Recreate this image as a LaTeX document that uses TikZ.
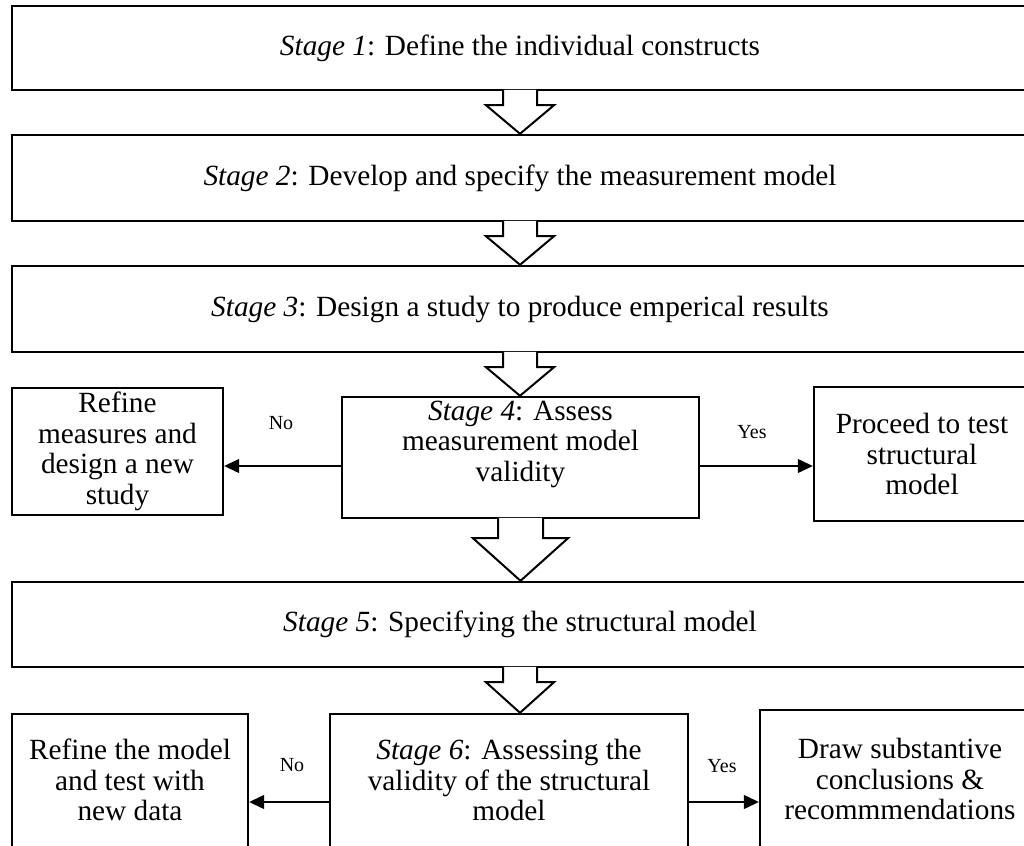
\documentclass[tikz,border=0pt]{standalone}
\usepackage{fontspec}
\setmainfont{Liberation Serif}
\usetikzlibrary{calc,arrows.meta}

\newcommand\boxfont{\fontsize{29.3}{30.5}\selectfont}
\newcommand\lblfont{\fontsize{20}{24}\selectfont}

\tikzset{
  box/.style={draw, line width=2.4pt, fill=white, inner sep=0pt, align=center, font=\boxfont},
  txt/.style={inner sep=0pt, align=center, font=\boxfont},
  lbl/.style={inner sep=0pt, font=\lblfont},
  flow/.style={line width=1.3pt, -{Triangle[length=15pt,width=14pt]}},
  blockarrow/.style={draw, fill=white, line width=2pt, line join=miter},
}

% hollow block arrow from the bottom edge of #1 down to the top edge of #2
% #3 shaft half width, #4 head half width, #5 shaft length
\newcommand\stagearrow[5]{%
  \draw[blockarrow]
    ($(#1.south)+(-#3,-1.4)$) -- ($(#1.south)+(-#3,#5)$) -- ($(#1.south)+(-#4,#5)$)
    -- (#1.south |- #2.north)
    -- ($(#1.south)+(#4,#5)$) -- ($(#1.south)+(#3,#5)$) -- ($(#1.south)+(#3,-1.4)$);
}

\begin{document}
\begin{tikzpicture}[x=1pt, y=-1pt]
  \useasboundingbox (0,0) rectangle (1024,845);
  \clip (0,0) rectangle (1024,845);

  % main stages
  \node[box, minimum width=1016pt, minimum height=84pt] (s1) at (520,48)
    {\textit{Stage 1}: Define the individual constructs};
  \node[box, minimum width=1016pt, minimum height=86pt] (s2) at (520,178)
    {\textit{Stage 2}: Develop and specify the measurement model};
  \node[box, minimum width=1016pt, minimum height=86pt] (s3) at (520,309)
    {\textit{Stage 3}: Design a study to produce emperical results};
  \node[box, minimum width=357pt, minimum height=121pt] (s4) at (520.5,457.5) {};
  \node[txt] (s4t) at (520.5,444)
    {\textit{Stage 4}: Assess\\measurement model\\validity};
  \node[box, minimum width=1016pt, minimum height=85pt] (s5) at (520,624.5)
    {\textit{Stage 5}: Specifying the structural model};
  \node[box, minimum width=358pt, minimum height=140pt] (s6) at (509,784) {};
  \node[txt] (s6t) at (509,780)
    {\textit{Stage 6}: Assessing the\\validity of the structural\\model};

  % side outcomes
  \node[box, minimum width=211pt, minimum height=127pt] (r1) at (117.5,451.5)
    {Refine\\measures and\\design a new\\study};
  \node[box, minimum width=216pt, minimum height=134pt] (p1) at (922,454)
    {Proceed to test\\structural\\model};
  \node[box, minimum width=236pt, minimum height=140pt] (r2) at (130,784) {};
  \node[txt] (r2t) at (130,780)
    {Refine the model\\and test with\\new data};
  \node[box, minimum width=280pt, minimum height=140pt] (d1) at (900,780) {};
  \node[txt] (d1t) at (900,779)
    {Draw substantive\\conclusions \&\\recommmendations};

  % flow between stages
  \stagearrow{s1}{s2}{17}{34}{14}
  \stagearrow{s2}{s3}{17}{34}{14}
  \stagearrow{s3}{s4}{17}{34}{14}
  \stagearrow{s4}{s5}{22.5}{47.5}{19}
  \stagearrow{s5}{s6}{17}{34}{14}

  % decisions
  \coordinate (row4) at (0,466);
  \coordinate (row6) at (0,802);
  \draw[flow] (s4.west |- row4) -- (r1.east |- row4);
  \draw[flow] (s4.east |- row4) -- (p1.west |- row4);
  \draw[flow] (s6.west |- row6) -- (r2.east |- row6);
  \draw[flow] (s6.east |- row6) -- (d1.west |- row6);

  \node[lbl] (no4) at (281,423) {No};
  \node[lbl] (yes4) at (752,432) {Yes};
  \node[lbl] (no6) at (292,765) {No};
  \node[lbl] (yes6) at (722,766) {Yes};
\end{tikzpicture}
\end{document}
